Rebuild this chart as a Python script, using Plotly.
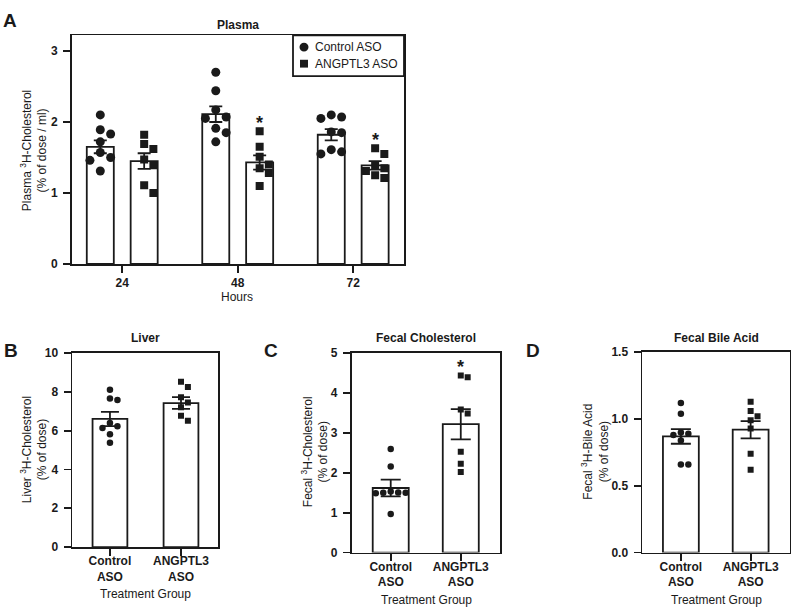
import math
import plotly.graph_objects as go

W, H = 791, 615
FONT = "Liberation Sans, Arial, Helvetica, sans-serif"
INK = "#1a1a1a"
LW = 1.8

# ---------------- data ----------------
series_names = ["Control ASO", "ANGPTL3 ASO"]
group_labels = ["Control<br>ASO", "ANGPTL3<br>ASO"]

# Panel A - Plasma
hours = ["24", "48", "72"]
plasma_ctrl_points = [
    [2.10, 1.89, 1.83, 1.72, 1.57, 1.50, 1.46, 1.31],
    [2.70, 2.44, 2.17, 2.07, 2.05, 1.91, 1.85, 1.72],
    [2.10, 2.07, 2.05, 1.86, 1.85, 1.61, 1.58, 1.55],
]
plasma_ang_points = [
    [1.82, 1.69, 1.62, 1.47, 1.39, 1.11, 1.00],
    [1.87, 1.65, 1.51, 1.40, 1.35, 1.28, 1.10],
    [1.63, 1.55, 1.38, 1.35, 1.31, 1.25, 1.21],
]
plasma_ctrl_mean = [1.65, 2.11, 1.82]
plasma_ctrl_sem = [0.09, 0.11, 0.08]
plasma_ang_mean = [1.45, 1.43, 1.39]
plasma_ang_sem = [0.11, 0.10, 0.06]
plasma_ang_sig = [False, True, True]

# Panel B - Liver
liver_points = [
    [8.10, 7.65, 7.57, 6.39, 6.23, 6.14, 5.81, 5.37],
    [8.52, 8.24, 7.72, 7.45, 7.20, 6.76, 6.51],
]
liver_mean = [6.60, 7.42]
liver_sem = [0.37, 0.30]
liver_sig = [False, False]

# Panel C - Fecal cholesterol
fchol_points = [
    [2.60, 2.16, 1.53, 1.51, 1.50, 1.50, 1.49, 0.97],
    [4.44, 4.40, 3.59, 3.49, 2.53, 2.23, 2.02],
]
fchol_mean = [1.62, 3.22]
fchol_sem = [0.21, 0.38]
fchol_sig = [False, True]

# Panel D - Fecal bile acid
fba_points = [
    [1.12, 1.04, 0.90, 0.89, 0.88, 0.84, 0.66, 0.66],
    [1.13, 1.06, 1.02, 0.99, 0.93, 0.74, 0.62],
]
fba_mean = [0.87, 0.92]
fba_sem = [0.055, 0.065]
fba_sig = [False, False]

# ---------------- layout geometry (pixels) ----------------
geom = {
    "A": dict(xpx=(72, 404), ypx=(29, 263), xr=(-0.435, 2.44), yr=(0, 3.22), ax=""),
    "B": dict(xpx=(72.3, 218.3), ypx=(354, 552.7), xr=(-0.53, 1.525), yr=(0, 10), ax="2"),
    "C": dict(xpx=(351.7, 500), ypx=(354.3, 558.3), xr=(-0.557, 1.56), yr=(0, 5), ax="3"),
    "D": dict(xpx=(642.3, 789.5), ypx=(353.3, 558.3), xr=(-0.553, 1.557), yr=(0, 1.5), ax="4"),
}
for g in geom.values():
    g["ppx"] = (g["xpx"][1] - g["xpx"][0]) / (g["xr"][1] - g["xr"][0])
    g["ppy"] = (g["ypx"][1] - g["ypx"][0]) / (g["yr"][1] - g["yr"][0])


def swarm(values, center, ppx, ppy, diam):
    step = diam * 1.15
    placed = []
    xs = [0.0] * len(values)
    order = sorted(range(len(values)), key=lambda k: -values[k])
    for k in order:
        ypx = values[k] * ppy
        chosen = 0.0
        for m in [0, 1, -1, 2, -2, 3, -3]:
            xpx = m * step
            if all(math.hypot(xpx - px, ypx - py) >= diam for px, py in placed):
                chosen = xpx
                break
        placed.append((chosen, ypx))
        xs[k] = center + chosen / ppx
    return xs


fig = go.Figure()
annotations = []
shapes = []


def add_group(panel, xc, mean, sem, pts, symbol, msize, barw, cap, name, sig):
    g = geom[panel]
    xa, ya = "x" + g["ax"], "y" + g["ax"]
    fig.add_trace(go.Bar(
        x=[xc], y=[mean], width=barw, xaxis=xa, yaxis=ya,
        marker=dict(color="white", line=dict(color=INK, width=LW)),
        error_y=dict(type="data", array=[sem], visible=True, color=INK, thickness=LW, width=cap),
        showlegend=False, hoverinfo="skip",
    ))
    xs = swarm(pts, xc, g["ppx"], g["ppy"], msize)
    fig.add_trace(go.Scatter(
        x=xs, y=pts, mode="markers", xaxis=xa, yaxis=ya, name=name,
        showlegend=False,
        marker=dict(symbol=symbol, size=msize, color=INK, line=dict(width=0)),
        hoverinfo="skip",
    ))
    if sig:
        annotations.append(dict(
            x=xc, y=max(pts) + 14 / g["ppy"], xref=xa, yref=ya, text="*",
            showarrow=False, font=dict(family=FONT, size=18, color=INK, weight="bold"),
            yanchor="middle", yshift=-5,
        ))


# Panel A
off = 0.19
for i in range(len(hours)):
    add_group("A", i - off, plasma_ctrl_mean[i], plasma_ctrl_sem[i], plasma_ctrl_points[i],
              "circle", 9, 0.234, 6.5, series_names[0], False)
    add_group("A", i + off, plasma_ang_mean[i], plasma_ang_sem[i], plasma_ang_points[i],
              "square", 8, 0.234, 6.5, series_names[1], plasma_ang_sig[i])

# Panels B, C, D
symbols = ["circle", "square"]
for panel, pts, means, sems, sigs, bw, cap in [
    ("B", liver_points, liver_mean, liver_sem, liver_sig, 0.49, 9),
    ("C", fchol_points, fchol_mean, fchol_sem, fchol_sig, 0.514, 10),
    ("D", fba_points, fba_mean, fba_sem, fba_sig, 0.514, 10),
]:
    for j in range(2):
        add_group(panel, j, means[j], sems[j], pts[j], symbols[j], 6.5 if j == 0 else 6,
                  bw, cap, series_names[j], sigs[j])


def axis_common():
    return dict(showline=True, linecolor=INK, linewidth=LW, mirror=True,
                ticks="outside", ticklen=7, tickwidth=LW, tickcolor=INK,
                showgrid=False, zeroline=False, fixedrange=True,
                tickfont=dict(family=FONT, size=12, color=INK, weight="bold"))


layout_axes = {}
xticks = {"A": (list(range(len(hours))), hours),
          "B": ([0, 1], group_labels), "C": ([0, 1], group_labels), "D": ([0, 1], group_labels)}
yticks = {"A": [0, 1, 2, 3], "B": [0, 2, 4, 6, 8, 10], "C": [0, 1, 2, 3, 4, 5], "D": [0, 0.5, 1.0, 1.5]}
for panel, g in geom.items():
    xd = [g["xpx"][0] / W, g["xpx"][1] / W]
    yd = [1 - g["ypx"][1] / H, 1 - g["ypx"][0] / H]
    xk = "xaxis" + g["ax"]
    yk = "yaxis" + g["ax"]
    xa = axis_common()
    xa.update(domain=xd, range=list(g["xr"]), anchor="y" + g["ax"],
              tickmode="array", tickvals=xticks[panel][0], ticktext=xticks[panel][1])
    if panel != "A":
        xa["ticklabelstandoff"] = -5
    ya = axis_common()
    ya.update(domain=yd, range=list(g["yr"]), anchor="x" + g["ax"],
              tickmode="array", tickvals=yticks[panel], ticklabelstandoff=3)
    if panel == "D":
        ya["tickformat"] = ".1f"
    layout_axes[xk] = xa
    layout_axes[yk] = ya


def txt(x, y, text, size=12, bold=False, angle=0, xanchor="center"):
    annotations.append(dict(
        x=x / W, y=1 - y / H, xref="paper", yref="paper", text=text, showarrow=False,
        textangle=angle, xanchor=xanchor, yanchor="middle",
        font=dict(family=FONT, size=size, color=INK, weight="bold" if bold else "normal"),
    ))


# panel letters
txt(1, 14, "A", 19, True, xanchor="left")
txt(2, 352, "B", 19, True, xanchor="left")
txt(262, 352, "C", 19, True, xanchor="left")
txt(524, 352, "D", 19, True, xanchor="left")

# titles
txt(238, 18, "Plasma", 12, True)
txt(145.3, 339, "Liver", 12, True)
txt(426, 339, "Fecal Cholesterol", 12, True)
txt(716, 339, "Fecal Bile Acid", 12, True)

# axis titles
txt(33.5, 147, "Plasma <sup>3</sup>H-Cholesterol<br>(% of dose / ml)", 12, angle=-90)
txt(33.5, 453, "Liver <sup>3</sup>H-Cholesterol<br>(% of dose)", 12, angle=-90)
txt(314.5, 455, "Fecal <sup>3</sup>H-Cholesterol<br>(% of dose)", 12, angle=-90)
txt(595, 455, "Fecal <sup>3</sup>H-Bile Acid<br>(% of dose)", 12, angle=-90)
txt(237, 297, "Hours", 12)
txt(145.3, 601, "Treatment Group", 12)
txt(426, 607, "Treatment Group", 12)
txt(716, 607, "Treatment Group", 12)

# legend (panel A)
leg_x0, leg_x1, leg_y0, leg_y1 = 293, 404, 29, 70.7
shapes.append(dict(type="rect", xref="paper", yref="paper",
                   x0=leg_x0 / W, x1=leg_x1 / W, y0=1 - leg_y1 / H, y1=1 - leg_y0 / H,
                   line=dict(color=INK, width=LW), fillcolor="white", layer="above"))
leg_rows = [41, 58]
r = 4.5
shapes.append(dict(type="circle", xref="paper", yref="paper",
                   x0=(304 - r) / W, x1=(304 + r) / W, y0=1 - (leg_rows[0] + r) / H, y1=1 - (leg_rows[0] - r) / H,
                   line=dict(color=INK, width=0), fillcolor=INK, layer="above"))
s = 4
shapes.append(dict(type="rect", xref="paper", yref="paper",
                   x0=(304 - s) / W, x1=(304 + s) / W, y0=1 - (leg_rows[1] + s) / H, y1=1 - (leg_rows[1] - s) / H,
                   line=dict(color=INK, width=0), fillcolor=INK, layer="above"))
for name, yy in zip(series_names, leg_rows):
    txt(313, yy, name, 12, xanchor="left")

fig.update_layout(
    width=W, height=H, margin=dict(l=0, r=0, t=0, b=0),
    paper_bgcolor="white", plot_bgcolor="white",
    font=dict(family=FONT, size=12, color=INK),
    barmode="overlay",
    showlegend=False,
    annotations=annotations,
    shapes=shapes,
    **layout_axes,
)

fig.write_html(
    "out.html",
    config={"displayModeBar": False, "staticPlot": True},
    post_script="document.body.style.margin='0px';document.body.style.overflow='hidden';",
)
